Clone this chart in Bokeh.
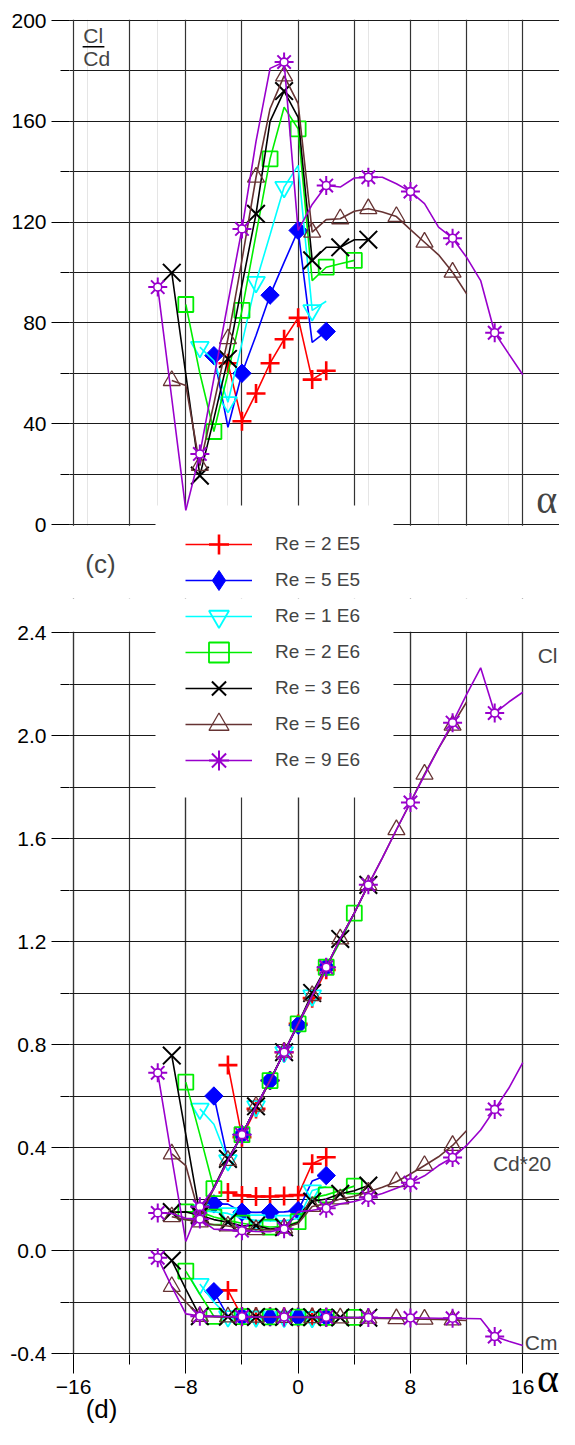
import math
from bokeh.plotting import figure
from bokeh.models import (Range1d, FixedTicker, Grid, Legend, LegendItem, Label, LinearAxis,
                          BoxAnnotation, PrintfTickFormatter)
from bokeh.layouts import column
from bokeh.embed import file_html
from bokeh.resources import INLINE

# ---------------- data ----------------
names = ["Re = 2 E5", "Re = 5 E5", "Re = 1 E6", "Re = 2 E6", "Re = 3 E6", "Re = 5 E6", "Re = 9 E6"]

alpha_2e5 = [-5, -4, -3, -2, -1, 0, 1, 2]
clcd_2e5 = [64, 41, 52, 64, 73.5, 82, 57.5, 61]
cl_2e5 = [0.72, 0.44, 0.55, 0.66, 0.77, 0.88, 0.98, 1.09]
cd20_2e5 = [0.225, 0.214, 0.21, 0.21, 0.212, 0.215, 0.337, 0.362]
cm_2e5 = [-0.155, -0.256, -0.257, -0.257, -0.258, -0.258, -0.259, -0.259]

alpha_5e5 = [-6, -5, -4, -3, -2, -1, 0, 1, 2]
clcd_5e5 = [67, 38.6, 60, 75, 91, 104, 116.7, 72.3, 76.6]
cl_5e5 = [0.60, 0.35, 0.45, 0.555, 0.66, 0.77, 0.875, 0.99, 1.10]
cd20_5e5 = [0.181, 0.18, 0.149, 0.148, 0.149, 0.15, 0.155, 0.27, 0.291]
cm_5e5 = [-0.16, -0.256, -0.257, -0.257, -0.258, -0.258, -0.258, -0.259, -0.259]

alpha_1e6 = [-7, -6, -5, -4, -3, -2, -1, 0, 1, 2]
clcd_1e6 = [70.4, 65, 48.5, 72, 96.2, 115, 133.9, 142.5, 85, 88.6]
cl_1e6 = [0.55, 0.49, 0.35, 0.45, 0.56, 0.66, 0.77, 0.88, 0.99, 1.10]
cd20_1e6 = [0.156, 0.15, 0.144, 0.125, 0.117, 0.115, 0.115, 0.124, 0.233, 0.248]
cm_1e6 = [-0.13, -0.2, -0.256, -0.257, -0.257, -0.258, -0.258, -0.258, -0.259, -0.259]

alpha_2e6 = [-8, -7, -6, -5, -4, -3, -2, -1, 0, 1, 2, 3, 4]
clcd_2e6 = [87.3, 60, 36.9, 60, 85, 115, 145.1, 165.6, 157, 96.8, 102.1, 103.5, 104.8]
cl_2e6 = [0.654, 0.45, 0.24, 0.35, 0.45, 0.56, 0.66, 0.77, 0.88, 0.99, 1.10, 1.20, 1.31]
cd20_2e6 = [0.15, 0.15, 0.13, 0.117, 0.106, 0.097, 0.091, 0.093, 0.112, 0.205, 0.216, 0.233, 0.25]
cm_2e6 = [-0.08, -0.17, -0.256, -0.257, -0.257, -0.258, -0.258, -0.258, -0.259, -0.259, -0.26, -0.26, -0.26]

alpha_3e6 = [-9, -8, -7, -6, -5, -4, -3, -2, -1, 0, 1, 2, 3, 4, 5]
clcd_3e6 = [99.9, 59.6, 19.4, 42, 65.7, 95, 123.3, 160, 172, 161.6, 104.8, 110, 110, 113, 113]
cl_3e6 = [0.757, 0.45, 0.14, 0.245, 0.356, 0.45, 0.56, 0.66, 0.77, 0.88, 1.0, 1.1, 1.21, 1.31, 1.42]
cd20_3e6 = [0.149, 0.15, 0.136, 0.12, 0.11, 0.095, 0.097, 0.083, 0.09, 0.109, 0.19, 0.2, 0.22, 0.232, 0.252]
cm_3e6 = [-0.039, -0.15, -0.255, -0.256, -0.257, -0.257, -0.258, -0.258, -0.258, -0.259, -0.259, -0.26, -0.26, -0.26, -0.261]

alpha_5e6 = [-9, -8, -7, -6, -5, -4, -3, -2, -1, 0, 1, 2, 3, 4, 5, 6, 7, 8, 9, 10, 11, 12]
clcd_5e6 = [57.1, 55.2, 23.4, 48, 73.7, 105, 137.8, 165, 178, 167, 116, 121, 121.3, 124.3, 125.3,
            124, 122.2, 117, 112, 107, 100.1, 91.5]
cl_5e6 = [0.375, 0.33, 0.13, 0.24, 0.35, 0.45, 0.56, 0.66, 0.77, 0.88, 0.99, 1.10, 1.21, 1.31, 1.42,
          1.525, 1.634, 1.74, 1.85, 1.95, 2.04, 2.13]
cd20_5e6 = [0.131, 0.12, 0.111, 0.1, 0.095, 0.086, 0.081, 0.08, 0.087, 0.105, 0.171, 0.182, 0.2, 0.211,
            0.227, 0.246, 0.267, 0.297, 0.33, 0.364, 0.408, 0.466]
cm_5e6 = [-0.14, -0.2, -0.256, -0.257, -0.258, -0.258, -0.259, -0.259, -0.26, -0.26, -0.261, -0.261,
          -0.262, -0.262, -0.263, -0.264, -0.265, -0.266, -0.267, -0.268, -0.27, -0.272]

alpha_9e6 = [-10, -9, -8, -7, -6, -5, -4, -3, -2, -1, 0, 1, 2, 3, 4, 5, 6, 7, 8, 9, 10, 11, 12, 13, 14, 15, 16]
clcd_9e6 = [94.2, 50, 5.6, 28, 58, 88, 117.3, 152, 181, 183.5, 116.7, 127, 134.5, 133.9, 137.5, 137.8,
            137.8, 135.2, 132.1, 127.3, 118, 113.6, 106, 96.8, 76.1, 67.7, 59.4]
cl_9e6 = [0.69, 0.36, 0.035, 0.17, 0.24, 0.35, 0.45, 0.56, 0.66, 0.77, 0.88, 0.99, 1.10, 1.21, 1.31, 1.42,
          1.525, 1.634, 1.74, 1.845, 1.95, 2.05, 2.16, 2.263, 2.087, 2.13, 2.168]
cd20_9e6 = [0.146, 0.144, 0.125, 0.122, 0.083, 0.08, 0.077, 0.074, 0.073, 0.084, 0.151, 0.156, 0.164, 0.181,
            0.19, 0.206, 0.221, 0.242, 0.263, 0.29, 0.33, 0.361, 0.408, 0.468, 0.548, 0.63, 0.73]
cm_9e6 = [-0.028, -0.14, -0.246, -0.255, -0.256, -0.257, -0.257, -0.258, -0.258, -0.258, -0.258, -0.259,
          -0.259, -0.26, -0.26, -0.26, -0.261, -0.261, -0.262, -0.262, -0.263, -0.263, -0.264, -0.265,
          -0.334, -0.352, -0.369]

top_yticks = [0, 40, 80, 120, 160, 200]
bot_yticks = [-0.4, 0.0, 0.4, 0.8, 1.2, 1.6, 2.0, 2.4]
xticks = [-16, -8, 0, 8, 16]

# ---------------- styles ----------------
FONT = "Liberation Sans"
PURPLE = "#9900cc"
styles = [
    dict(color="#ff0000", marker="cross", size=19, lw=2.6, fill=None, step=1),
    dict(color="#0000ff", marker="square", size=13, lw=1, fill="#0000ff", step=2, angle=math.pi / 4),
    dict(color="#00ffff", marker="inverted_triangle", size=18, lw=1.8, fill=None, step=2),
    dict(color="#00ee00", marker="square", size=15, lw=1.8, fill=None, step=2),
    dict(color="#000000", marker="x", size=25, lw=2.0, fill=None, step=2),
    dict(color="#663333", marker="triangle", size=17, lw=1.3, fill=None, step=2),
    dict(color=PURPLE, marker="asterisk", size=19, lw=2.0, fill=None, step=3),
]
alphas = [alpha_2e5, alpha_5e5, alpha_1e6, alpha_2e6, alpha_3e6, alpha_5e6, alpha_9e6]
clcds = [clcd_2e5, clcd_5e5, clcd_1e6, clcd_2e6, clcd_3e6, clcd_5e6, clcd_9e6]
cls = [cl_2e5, cl_5e5, cl_1e6, cl_2e6, cl_3e6, cl_5e6, cl_9e6]
cd20s = [cd20_2e5, cd20_5e5, cd20_1e6, cd20_2e6, cd20_3e6, cd20_5e6, cd20_9e6]
cms = [cm_2e5, cm_5e5, cm_1e6, cm_2e6, cm_3e6, cm_5e6, cm_9e6]

# ---------------- geometry (pixels) ----------------
W = 559
LEFT = 69              # frame left edge; alpha=-16 sits 4 px inside
PXD = 14.04            # px per degree
XS = -16 - 4 / PXD
XE = XS + (W - LEFT) / PXD
TOP_PX = 2.52          # px per unit of Cl/Cd
BOT_PX = 257.5         # px per unit of Cl

TOP_H = 598            # top canvas
TOP_BT = 19            # top border
TY1 = 200 + 1 / TOP_PX
TY0 = TY1 - (TOP_H - TOP_BT) / TOP_PX

BOT_H = 831
BOT_BB = 75
BY1 = 2.4 + 34 / BOT_PX
BY0 = BY1 - (BOT_H - BOT_BB) / BOT_PX

LEG_GH = 50            # legend glyph box (markers are drawn at 0.4 of it)
LEG_Y0 = 544           # centre of the first legend row (px from the top)
LEG_STEP = 36          # distance between legend rows


def draw_series(p, x, y, st):
    line = p.line(x, y, line_color=st["color"], line_width=1.6)
    idx = list(range(0, len(x), st["step"]))
    xm = [x[i] for i in idx]
    ym = [y[i] for i in idx]
    kw = dict(marker=st["marker"], size=st["size"], line_color=st["color"], line_width=st["lw"])
    if st["fill"] is None:
        kw["fill_alpha"] = 0
    else:
        kw["fill_color"] = st["fill"]
    legend_rs = [line]
    if "angle" in st:
        # an upright diamond hidden inside the rotated square; it is the legend sample
        legend_rs.append(p.scatter(xm, ym, marker="diamond", size=17, line_color=st["color"],
                                   fill_color=st["fill"], line_width=1))
        kw["angle"] = st["angle"]
        p.scatter(xm, ym, **kw)
    else:
        legend_rs.append(p.scatter(xm, ym, **kw))
    if st["marker"] == "asterisk":
        p.scatter(xm, ym, marker="circle", size=8, line_color=st["color"],
                  line_width=1.6, fill_color="white")
    return legend_rs


def style_axis(ax, size="21px", font=FONT):
    ax.axis_line_color = None
    ax.major_tick_line_color = "black"
    ax.minor_tick_line_color = "black"
    ax.major_tick_in = 0
    ax.minor_tick_in = 0
    ax.major_label_text_font = font
    ax.major_label_text_font_size = size
    ax.major_label_text_color = "black"


def style_grid(g, color, width):
    g.grid_line_color = color
    g.grid_line_width = width
    g.minor_grid_line_color = color
    g.minor_grid_line_width = width


def white_box(p, **kw):
    p.add_layout(BoxAnnotation(fill_color="white", fill_alpha=1, line_color=None,
                               level="underlay", **kw))


def add_legend_row(p, k, renderers, frame_bottom_px):
    """One legend row per series; row k is centred LEG_Y0 + k*LEG_STEP px from the page top."""
    centre = LEG_Y0 + k * LEG_STEP
    y = frame_bottom_px - (centre + LEG_GH / 2)
    p.add_layout(Legend(items=[LegendItem(label=names[k], renderers=renderers)],
                        location=(116, int(round(y))), glyph_width=67, glyph_height=LEG_GH,
                        label_height=LEG_GH, label_standoff=23, label_text_font=FONT,
                        label_text_font_size="19px", background_fill_alpha=0,
                        border_line_color=None, margin=0, spacing=0))


# ---------------- top panel: Cl/Cd ----------------
top = figure(width=W, height=TOP_H, x_range=Range1d(XS, XE), y_range=Range1d(TY0, TY1),
             output_backend="svg", toolbar_location=None, x_axis_location=None, title=None,
             min_border_left=LEFT, min_border_right=0, min_border_top=TOP_BT, min_border_bottom=0)
top.outline_line_color = None
top.yaxis.ticker = FixedTicker(ticks=top_yticks, minor_ticks=list(range(0, 201, 20)))
style_axis(top.yaxis[0])
top.yaxis.major_tick_out = 18
top.yaxis.minor_tick_out = 9
top.yaxis.major_label_standoff = 5
style_grid(top.ygrid[0], "#1a1a1a", 1.1)
gx = Grid(dimension=0, ticker=FixedTicker(ticks=list(range(-16, 17, 4))))
style_grid(gx, "#333333", 1.2)
top.add_layout(gx)
white_box(top, top=-0.45)                                   # nothing below the axis
white_box(top, left=-10.16, right=6.79, top=7.5)            # legend's white area

for k, (a, v, st) in enumerate(zip(alphas, clcds, styles)):
    rs = draw_series(top, a, v, st)
    if k < 2:
        add_legend_row(top, k, rs, TOP_H)

top.add_layout(Label(x=-15.3, y=194.0, text="Cl", text_font=FONT, text_font_size="21px",
                     text_baseline="middle", text_align="left"))
top.add_layout(Label(x=-15.3, y=185.0, text="Cd", text_font=FONT, text_font_size="21px",
                     text_baseline="middle", text_align="left"))
top.segment(x0=[-15.35], y0=[189.6], x1=[-13.8], y1=[189.6], line_color="black", line_width=1.6)
top.add_layout(Label(x=17.7, y=10.0, text="α", text_font="Liberation Serif", text_font_size="40px",
                     text_baseline="middle", text_align="center"))
top.add_layout(Label(x=-14.08, y=-15.5, text="(c)", text_font=FONT, text_font_size="26px",
                     text_baseline="middle", text_align="center"))

# ---------------- bottom panel: Cl, Cd*20, Cm ----------------
bot = figure(width=W, height=BOT_H, x_range=Range1d(XS, XE), y_range=Range1d(BY0, BY1),
             output_backend="svg", toolbar_location=None, title=None,
             min_border_left=LEFT, min_border_right=0, min_border_top=0, min_border_bottom=BOT_BB)
bot.outline_line_color = None
bot.yaxis.ticker = FixedTicker(ticks=bot_yticks,
                               minor_ticks=[round(-0.4 + 0.2 * i, 1) for i in range(15)])
bot.yaxis.formatter = PrintfTickFormatter(format="%.1f")
bot.xaxis.ticker = FixedTicker(ticks=xticks, minor_ticks=list(range(-16, 17, 4)))
for ax in (bot.xaxis[0], bot.yaxis[0]):
    style_axis(ax)
bot.yaxis.major_tick_out = 18
bot.yaxis.minor_tick_out = 9
bot.yaxis.major_label_standoff = 5
bot.xaxis.major_tick_out = 19
bot.xaxis.minor_tick_out = 10
bot.xaxis.major_label_standoff = 6
style_grid(bot.ygrid[0], "#1a1a1a", 1.1)
style_grid(bot.xgrid[0], "#333333", 1.2)
white_box(bot, bottom=2.403)                                 # nothing above 2.4
white_box(bot, left=-10.16, right=6.79, bottom=1.759)        # legend's white area

# the big alpha beside the last tick label, and the panel tag "(d)"
ax_alpha = LinearAxis(ticker=FixedTicker(ticks=[17.8], minor_ticks=[]),
                      formatter=PrintfTickFormatter(format="α"))
style_axis(ax_alpha, size="42px", font="Liberation Serif")
ax_alpha.major_tick_out = 0
ax_alpha.minor_tick_out = 0
ax_alpha.major_label_standoff = -42
bot.add_layout(ax_alpha, "below")
ax_tag = LinearAxis(ticker=FixedTicker(ticks=[-14.0], minor_ticks=[]),
                    formatter=PrintfTickFormatter(format="(d)"))
style_axis(ax_tag, size="26px")
ax_tag.major_tick_out = 0
ax_tag.minor_tick_out = 0
ax_tag.major_label_standoff = -10
bot.add_layout(ax_tag, "below")

BOT_FRAME_BOTTOM = TOP_H + BOT_H - BOT_BB     # px from the page top
for k, (a, c1, c2, c3, st) in enumerate(zip(alphas, cls, cd20s, cms, styles)):
    rs = draw_series(bot, a, c1, st)
    draw_series(bot, a, c2, st)
    draw_series(bot, a, c3, st)
    if k >= 2:
        add_legend_row(bot, k, rs, BOT_FRAME_BOTTOM)

bot.add_layout(Label(x=18.47, y=2.31, text="Cl", text_font=FONT, text_font_size="21px",
                     text_baseline="middle", text_align="right"))
bot.add_layout(Label(x=15.95, y=0.338, text="Cd*20", text_font=FONT, text_font_size="21px",
                     text_baseline="middle", text_align="center"))
bot.add_layout(Label(x=18.47, y=-0.359, text="Cm", text_font=FONT, text_font_size="21px",
                     text_baseline="middle", text_align="right"))

page = column(top, bot, spacing=0)
open("out.html", "w").write(file_html(page, INLINE))
